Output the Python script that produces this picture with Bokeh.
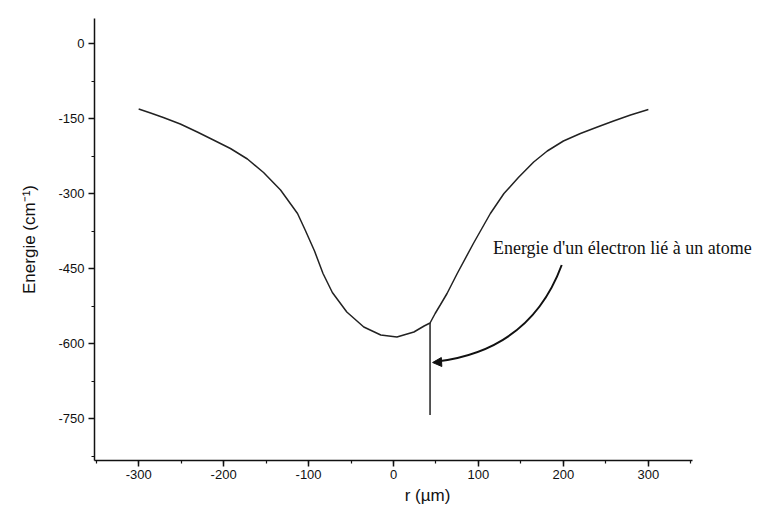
from bokeh.plotting import figure
from bokeh.embed import file_html
from bokeh.resources import INLINE
from bokeh.models import Range1d, Label, Arrow, NormalHead, FixedTicker

# --- data ---
r_um = [-300, -286, -271, -251, -231, -212, -192, -172, -153, -133, -113, -104, -93, -83, -72,
        -55, -35, -15, 4, 24, 36, 43,
        49, 55, 63, 75, 94, 114, 130, 147, 165, 181, 200, 220, 240, 259, 279, 300]
energy = [-131, -139, -148, -161, -177, -193, -210, -231, -258, -293, -340, -373, -415, -460, -498,
          -537, -567, -583, -587, -577, -565, -559,
          -540, -523, -500, -460, -400, -340, -300, -268, -237, -215, -195, -180, -167, -155, -143, -132]

spike_r = [43, 43]
spike_e = [-559, -743]

x_ticks = [-300, -200, -100, 0, 100, 200, 300]
y_ticks = [0, -150, -300, -450, -600, -750]

note_text = "Energie d'un électron lié à un atome"
note_pos = (117, -409)
arrow_from = (198, -443)
arrow_ctrl = (161, -613)
arrow_to = (51, -636)

p = figure(width=760, height=512, output_backend="svg", toolbar_location=None,
           x_range=Range1d(-352, 432), y_range=Range1d(-834, 50),
           min_border_left=94, min_border_right=0, min_border_top=18, min_border_bottom=52)
p.outline_line_color = None
p.xgrid.visible = False
p.ygrid.visible = False
p.background_fill_color = "white"
p.border_fill_color = "white"

p.line(r_um, energy, line_color="#222222", line_width=1.5)
p.line(spike_r, spike_e, line_color="#222222", line_width=1.5)

# curved arrow
p.quadratic(x0=[arrow_from[0]], y0=[arrow_from[1]], x1=[arrow_to[0]], y1=[arrow_to[1]],
            cx=[arrow_ctrl[0]], cy=[arrow_ctrl[1]], line_color="#111111", line_width=2)
p.add_layout(Arrow(end=NormalHead(size=9, fill_color="#111111", line_color="#111111"),
                   x_start=arrow_to[0] + 6, y_start=arrow_to[1] - 1,
                   x_end=arrow_to[0] - 5, y_end=arrow_to[1] - 2,
                   line_color="#111111", line_width=2))

p.add_layout(Label(x=note_pos[0], y=note_pos[1], text=note_text,
                   text_font="Liberation Serif", text_font_size="18px",
                   text_color="#111111", text_baseline="middle", text_align="left"))

# axes
p.xaxis.ticker = FixedTicker(ticks=x_ticks, minor_ticks=list(range(-350, 351, 50)))
p.yaxis.ticker = FixedTicker(ticks=y_ticks, minor_ticks=list(range(-825, 51, 75)))
p.xaxis.bounds = (-352, 352)
p.xaxis.major_label_overrides = {t: str(t) for t in x_ticks}
p.yaxis.major_label_overrides = {t: str(t) for t in y_ticks}
for ax in (p.xaxis[0], p.yaxis[0]):
    ax.axis_line_color = "#111111"
    ax.axis_line_width = 1.5
    ax.major_tick_line_color = "#111111"
    ax.major_tick_line_width = 1.5
    ax.minor_tick_line_color = "#111111"
    ax.minor_tick_line_width = 1.2
    ax.major_tick_in = 0
    ax.major_tick_out = 6
    ax.minor_tick_in = 0
    ax.minor_tick_out = 3
    ax.major_label_text_font = "Liberation Sans"
    ax.major_label_text_font_size = "13px"
    ax.major_label_text_color = "#111111"
    ax.axis_label_text_font = "Liberation Sans"
    ax.axis_label_text_font_size = "17px"
    ax.axis_label_text_font_style = "normal"
    ax.axis_label_text_color = "#111111"

p.xaxis.axis_label = "r (µm)"
p.yaxis.axis_label = "Energie (cm⁻¹)"
p.xaxis.major_label_standoff = 3
p.xaxis.axis_label_standoff = 4
p.yaxis.major_label_standoff = 4
p.yaxis.axis_label_standoff = 16
p.yaxis.major_label_orientation = "horizontal"

open("out.html", "w").write(file_html(p, INLINE))
